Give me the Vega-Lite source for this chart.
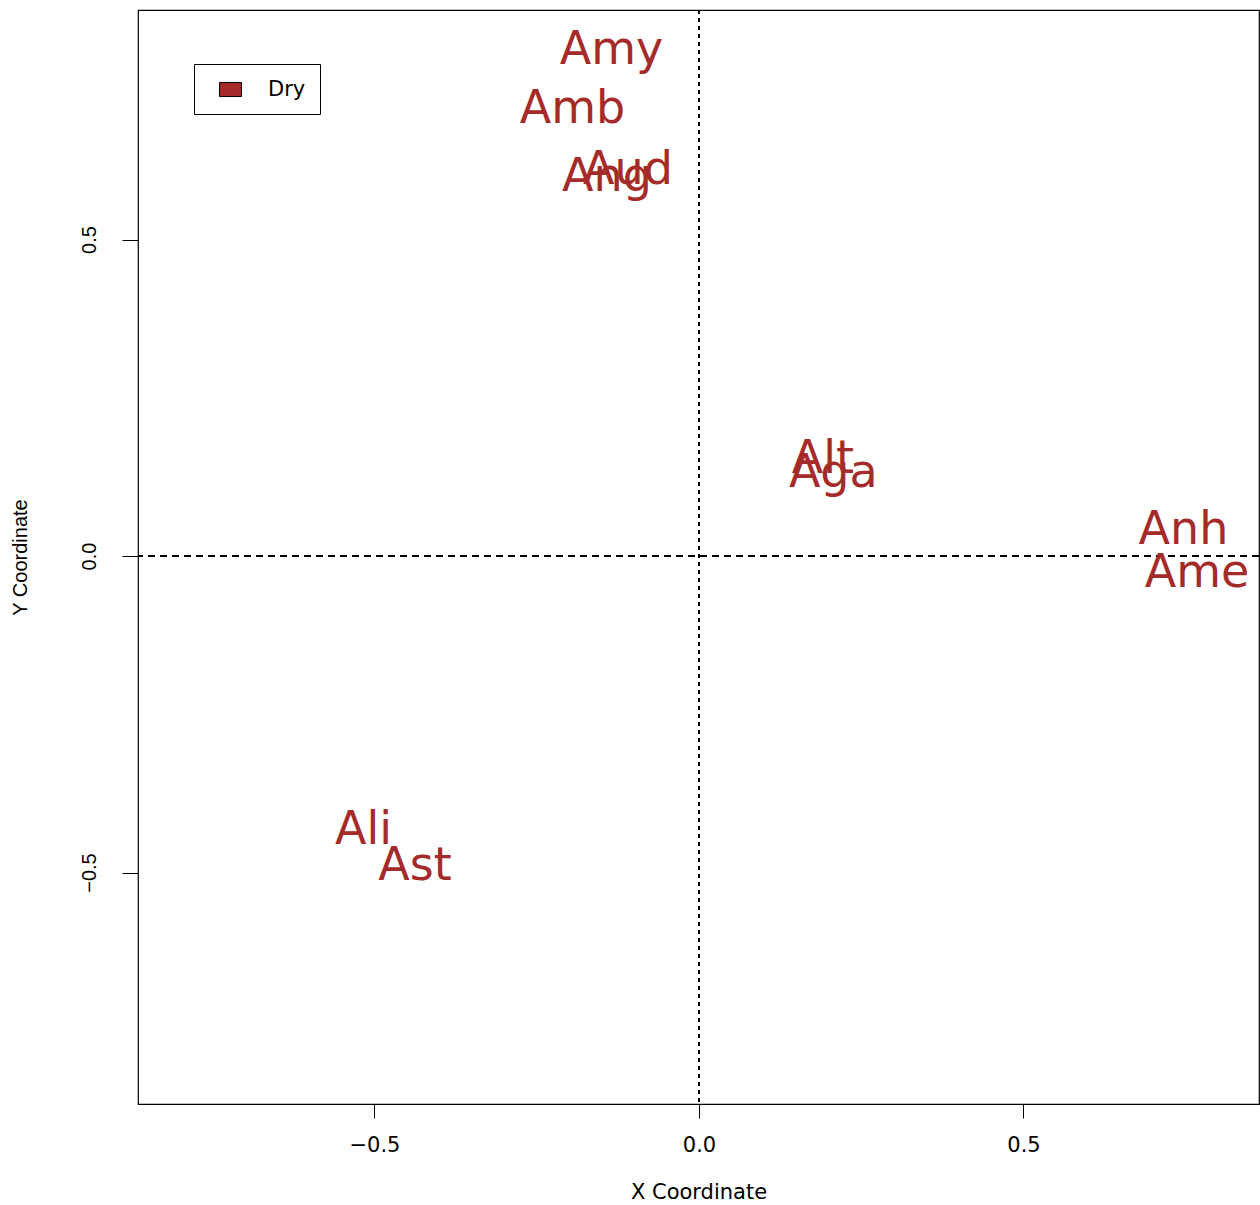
{
  "$schema": "https://vega.github.io/schema/vega-lite/v6.json",
  "width": 1121,
  "height": 1094,
  "autosize": {"type": "none"},
  "padding": {"left": 138, "top": 10, "right": 1, "bottom": 101},
  "background": "white",
  "config": {"view": {"stroke": "black", "strokeWidth": 1.2}},
  "data": {"values": [
    {"label": "Amy", "x": -0.1348, "y": 0.8033, "type": "Dry"},
    {"label": "Amb", "x": -0.1949, "y": 0.7093, "type": "Dry"},
    {"label": "Ang", "x": -0.1418, "y": 0.6020, "type": "Dry"},
    {"label": "Aud", "x": -0.1095, "y": 0.6130, "type": "Dry"},
    {"label": "Alt", "x": 0.1910, "y": 0.1560, "type": "Dry"},
    {"label": "Aga", "x": 0.2070, "y": 0.1340, "type": "Dry"},
    {"label": "Anh", "x": 0.7465, "y": 0.0442, "type": "Dry"},
    {"label": "Ame", "x": 0.7673, "y": -0.0237, "type": "Dry"},
    {"label": "Ali", "x": -0.5169, "y": -0.4297, "type": "Dry"},
    {"label": "Ast", "x": -0.4376, "y": -0.4866, "type": "Dry"}
  ]},
  "layer": [
    {
      "mark": {"type": "rule", "color": "black", "strokeWidth": 1, "strokeDash": [4, 4]},
      "encoding": {"x": {"datum": 0, "type": "quantitative"}}
    },
    {
      "mark": {"type": "rule", "color": "black", "strokeWidth": 1, "strokeDash": [7, 5]},
      "encoding": {"y": {"datum": 0, "type": "quantitative"}}
    },
    {
      "mark": {"type": "text", "font": "DejaVu Sans", "fontSize": 46, "baseline": "alphabetic", "align": "center", "dy": 16},
      "encoding": {
        "x": {"field": "x", "type": "quantitative",
          "scale": {"domain": [-0.8644, 0.8629], "nice": false, "zero": false},
          "axis": {"title": "X Coordinate", "values": [-0.5, 0, 0.5], "format": ".1f", "domain": false, "grid": false,
            "tickSize": 14, "tickColor": "black", "tickWidth": 1,
            "labelFont": "DejaVu Sans", "labelFontSize": 21, "labelColor": "black", "labelPadding": 16,
            "titleFont": "DejaVu Sans", "titleFontSize": 21, "titleFontWeight": "normal", "titleColor": "black", "titlePadding": 26}},
        "y": {"field": "y", "type": "quantitative",
          "scale": {"domain": [-0.8657, 0.8626], "nice": false, "zero": false},
          "axis": {"title": "Y Coordinate", "values": [-0.5, 0, 0.5], "format": ".1f", "domain": false, "grid": false,
            "tickSize": 16, "tickColor": "black", "tickWidth": 1,
            "labelAngle": -90, "labelAlign": "center", "labelBaseline": "bottom",
            "labelFont": "Liberation Sans", "labelFontSize": 20, "labelColor": "black", "labelPadding": 23,
            "titleFont": "Liberation Sans", "titleFontSize": 20, "titleFontWeight": "normal", "titleColor": "black", "titlePadding": 49}},
        "text": {"field": "label"},
        "color": {"field": "type", "type": "nominal",
          "scale": {"domain": ["Dry"], "range": ["#A52A2A"]},
          "legend": {"orient": "none", "legendX": 56, "legendY": 54, "title": null,
            "strokeColor": "black", "fillColor": "white", "padding": 14,
            "symbolType": "M0,-0.64H2V0.64H0Z", "symbolSize": 484,
            "symbolStrokeColor": "black", "symbolStrokeWidth": 1, "symbolFillColor": "#A52A2A", "symbolOpacity": 1,
            "labelFont": "DejaVu Sans", "labelFontSize": 21, "labelColor": "black", "labelOffset": 37}}
      }
    }
  ]
}
